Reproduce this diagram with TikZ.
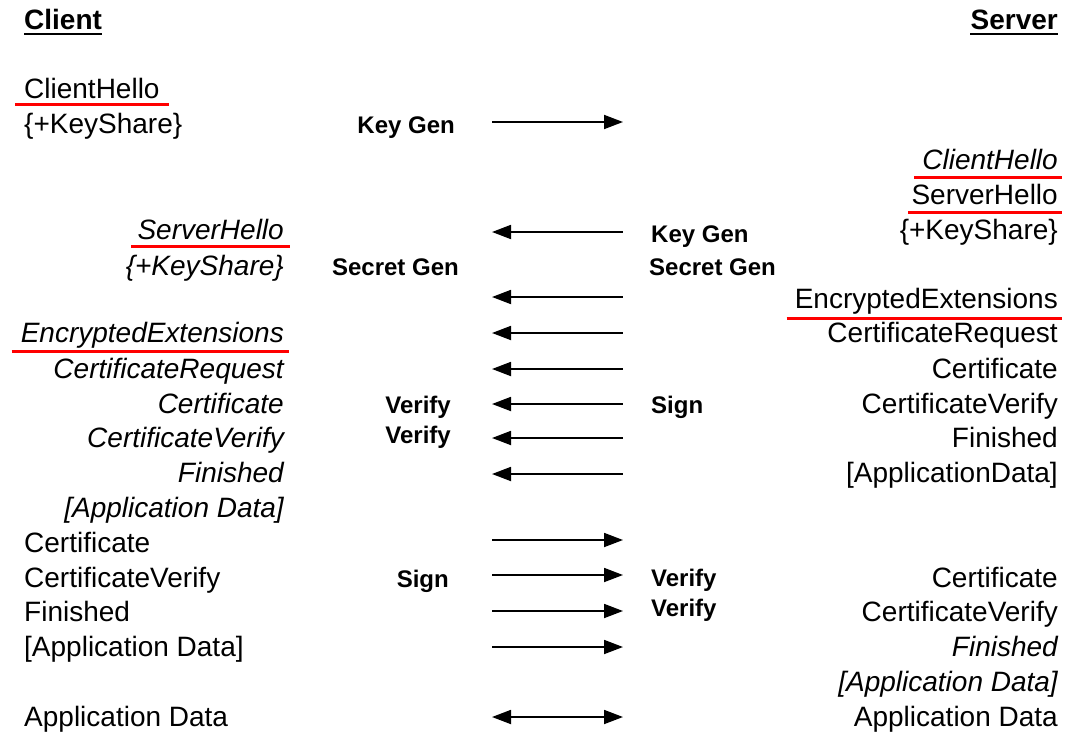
\documentclass[tikz,border=0pt]{standalone}
\usepackage{fontspec}
\setmainfont{Liberation Sans}
\usetikzlibrary{arrows.meta}

\tikzset{
  msg/.style={inner sep=0pt, font=\fontsize{28}{34}\selectfont},
  lmsg/.style={msg, anchor=base west},
  rmsg/.style={msg, anchor=base east},
  op/.style={inner sep=0pt, font=\fontsize{24}{28}\selectfont\bfseries},
  redline/.style={red, line width=3pt},
  flow/.style={line width=1.8pt, -{Triangle[length=19pt,width=14pt]}},
  back/.style={line width=1.8pt, {Triangle[length=19pt,width=14pt]}-},
  both/.style={line width=1.8pt, {Triangle[length=19pt,width=14pt]}-{Triangle[length=19pt,width=14pt]}}
}

\begin{document}
\begin{tikzpicture}[x=1pt,y=-1pt]
\useasboundingbox (0,0) rectangle (1089,733);

% headings
\node[lmsg, font=\fontsize{28}{34}\selectfont\bfseries] (client) at (24,30) {Client};
\node[rmsg, font=\fontsize{28}{34}\selectfont\bfseries] (server) at (1058,30) {Server};
\draw[line width=2pt] ([yshift=-4pt]client.base west) -- ([yshift=-4pt]client.base east);
\draw[line width=2pt] ([yshift=-4pt]server.base west) -- ([yshift=-4pt]server.base east);

% client side
\node[lmsg] (cHello) at (24,99) {ClientHello};
\node[lmsg] (cShare) at (24,134) {\{+KeyShare\}};
\node[rmsg] (cSHello) at (284,239) {\itshape ServerHello};
\node[rmsg] (cSShare) at (284,275) {\itshape \{+KeyShare\}};
\node[rmsg] (cExt) at (284,342) {\itshape EncryptedExtensions};
\node[rmsg] (cReq) at (284,378) {\itshape CertificateRequest};
\node[rmsg] (cSCert) at (284,413) {\itshape Certificate};
\node[rmsg] (cSVerify) at (284,447) {\itshape CertificateVerify};
\node[rmsg] (cSFin) at (284,482) {\itshape Finished};
\node[rmsg] (cSData) at (284,517) {\itshape [Application Data]};
\node[lmsg] (cCert) at (24,552) {Certificate};
\node[lmsg] (cVerify) at (24,587) {CertificateVerify};
\node[lmsg] (cFin) at (24,621) {Finished};
\node[lmsg] (cData) at (24,656) {[Application Data]};
\node[lmsg] (cApp) at (24,726) {Application Data};

% server side
\node[rmsg] (sCHello) at (1058,169) {\itshape ClientHello};
\node[rmsg] (sHello) at (1058,204) {ServerHello};
\node[rmsg] (sShare) at (1058,239) {\{+KeyShare\}};
\node[rmsg] (sExt) at (1058,308) {EncryptedExtensions};
\node[rmsg] (sReq) at (1058,342) {CertificateRequest};
\node[rmsg] (sCert) at (1058,378) {Certificate};
\node[rmsg] (sVerify) at (1058,413) {CertificateVerify};
\node[rmsg] (sFin) at (1058,447) {Finished};
\node[rmsg] (sData) at (1058,482) {[ApplicationData]};
\node[rmsg] (sCCert) at (1058,587) {Certificate};
\node[rmsg] (sCVerify) at (1058,621) {CertificateVerify};
\node[rmsg] (sCFin) at (1058,656) {\itshape Finished};
\node[rmsg] (sCData) at (1058,691) {\itshape [Application Data]};
\node[rmsg] (sApp) at (1058,726) {Application Data};

% red marks
\draw[redline] ([xshift=-9pt,yshift=-6pt]cHello.base west) -- ([xshift=9pt,yshift=-6pt]cHello.base east);
\draw[redline] ([xshift=-6pt,yshift=-7pt]cSHello.base west) -- ([xshift=6pt,yshift=-7pt]cSHello.base east);
\draw[redline] ([xshift=-9pt,yshift=-9pt]cExt.base west) -- ([xshift=5pt,yshift=-9pt]cExt.base east);
\draw[redline] ([xshift=-8pt,yshift=-8pt]sCHello.base west) -- ([xshift=4pt,yshift=-8pt]sCHello.base east);
\draw[redline] ([xshift=-3pt,yshift=-8pt]sHello.base west) -- ([xshift=4pt,yshift=-8pt]sHello.base east);
\draw[redline] ([xshift=-8pt,yshift=-10pt]sExt.base west) -- ([xshift=4pt,yshift=-10pt]sExt.base east);

% operations
\node[op, anchor=base east] (keyGenC) at (455,134) {Key Gen};
\node[op, anchor=base west] (keyGenS) at (651,242) {Key Gen};
\node[op, anchor=base east] (secGenC) at (459,275) {Secret Gen};
\node[op, anchor=base west] (secGenS) at (649,275) {Secret Gen};
\node[op, anchor=base east] (verC1) at (451,413) {Verify};
\node[op, anchor=base east] (verC2) at (451,443) {Verify};
\node[op, anchor=base west] (signS) at (651,413) {Sign};
\node[op, anchor=base east] (signC) at (449,587) {Sign};
\node[op, anchor=base west] (verS1) at (651,586) {Verify};
\node[op, anchor=base west] (verS2) at (651,616) {Verify};

% arrows
\foreach \i/\y/\d in {1/122/flow, 2/232/back, 3/297/back, 4/333/back, 5/369/back,
                      6/404/back, 7/438/back, 8/474/back, 9/540/flow, 10/575/flow,
                      11/611/flow, 12/647/flow, 13/717/both} {
  \coordinate (al\i) at (492,\y);
  \coordinate (ar\i) at (623,\y);
  \draw[\d] (al\i) -- (ar\i);
}

\end{tikzpicture}
\end{document}
